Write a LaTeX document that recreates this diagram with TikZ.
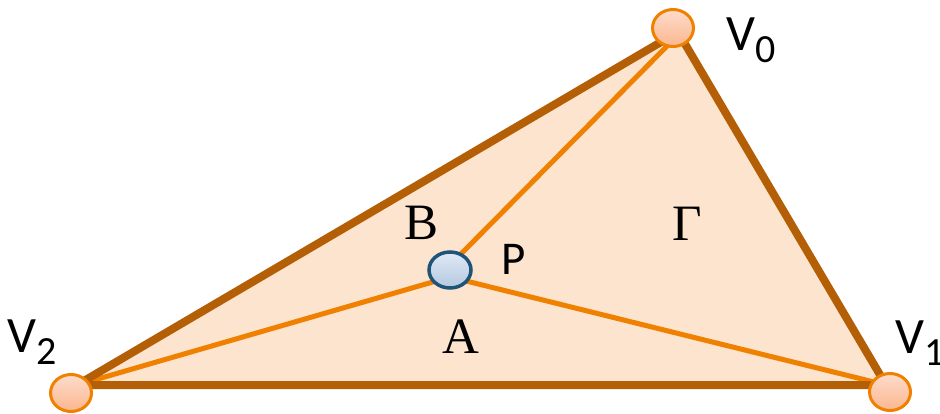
\documentclass[tikz,border=0pt]{standalone}
\usepackage{fontspec}
\setmainfont{Liberation Serif}
\newfontfamily\calib{Carlito}
\usetikzlibrary{shapes.geometric}
\definecolor{edgebrown}{RGB}{180,95,6}
\definecolor{inorange}{RGB}{240,128,0}
\definecolor{peach}{RGB}{252,228,206}
\definecolor{vtop}{RGB}{253,220,204}
\definecolor{vbot}{RGB}{251,182,142}
\definecolor{ptop}{RGB}{224,233,245}
\definecolor{pbot}{RGB}{180,200,224}
\definecolor{pborder}{RGB}{31,84,120}
\tikzset{
  vert/.style={ellipse, draw=inorange, line width=3pt, top color=vtop, bottom color=vbot,
    minimum width=41pt, minimum height=37pt, inner sep=0pt},
  pnode/.style={ellipse, draw=pborder, line width=3.5pt, top color=ptop, bottom color=pbot,
    minimum width=42pt, minimum height=36pt, inner sep=0pt},
  inline/.style={draw=inorange, line width=5pt},
  outline/.style={draw=edgebrown, line width=8pt, line join=round},
  vlab/.style={font=\calib\fontsize{51}{60}\selectfont, inner sep=0pt, anchor=base west},
  serlab/.style={font=\fontsize{51}{60}\selectfont, inner sep=0pt, anchor=base},
  plab/.style={font=\calib\fontsize{47}{56}\selectfont, inner sep=0pt, anchor=base}
}
\newcommand{\vsub}[1]{\raisebox{-12pt}{\fontsize{40}{48}\selectfont #1}}
\begin{document}
\begin{tikzpicture}[x=1pt,y=-1pt]
\useasboundingbox (0,0) rectangle (940,414);
% corner coordinates
\coordinate (k0) at (678,32);
\coordinate (k1) at (886,385);
\coordinate (k2) at (77,385);
\coordinate (e0) at (676,37);
\coordinate (pu) at (450,265);
\coordinate (pl) at (450,277);
% filled triangle
\fill[peach] (k0) -- (k1) -- (k2) -- cycle;
% inner lines
\draw[inline] (pu) -- (e0);
\draw[inline] (pl) -- (k1);
\draw[inline] (pl) -- (k2);
% outer edges
\draw[outline] (k0) -- (k1) -- (k2) -- cycle;
% vertices
\node[vert] (v0) at (673,28) {};
\node[vert] (v1) at (890,392) {};
\node[vert] (v2) at (71,393) {};
\node[pnode] (p) at (450,270) {};
% labels
\node[vlab] (lv0) at (726,51) {V\vsub{0}};
\node[vlab] (lv1) at (895,353) {V\vsub{1}};
\node[vlab] (lv2) at (7,352) {V\vsub{2}};
\node[serlab] (lb) at (421.5,240) {B};
\node[serlab] (la) at (460.5,353) {A};
\node[serlab] (lg) at (687,241) {Γ};
\node[plab] (lp) at (513.5,275) {P};
\end{tikzpicture}
\end{document}
